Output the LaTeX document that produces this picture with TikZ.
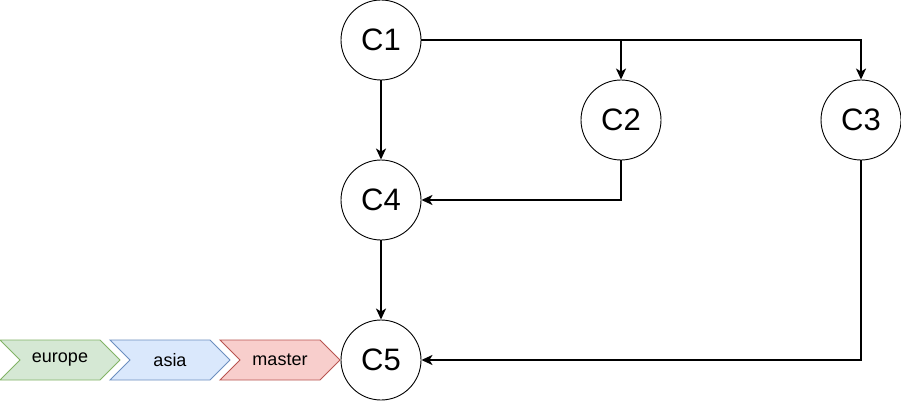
\documentclass[tikz,border=0pt]{standalone}
\usepackage{fontspec}
\setmainfont{Liberation Sans}
\usetikzlibrary{arrows.meta}
\definecolor{greenfill}{HTML}{D5E8D4}\definecolor{greenline}{HTML}{82B366}
\definecolor{bluefill}{HTML}{DAE8FC}\definecolor{blueline}{HTML}{6C8EBF}
\definecolor{redfill}{HTML}{F8CECC}\definecolor{redline}{HTML}{B85450}
\tikzset{
  commit/.style={circle, draw=black, line width=0.9pt, minimum size=80pt, inner sep=0pt, font=\fontsize{31}{31}\selectfont},
  link/.style={line width=1.8pt, -{Stealth[length=11pt,width=10pt,inset=3pt]}},
  branchtag/.style={line width=0.9pt},
  taglabel/.style={font=\fontsize{18}{18}\selectfont}
}
\begin{document}
\begin{tikzpicture}[x=1pt,y=-1pt]
  \useasboundingbox (0,0) rectangle (901,401);
  % commits
  \node[commit] (c1) at (381,40) {C1};
  \node[commit] (c2) at (621,120) {C2};
  \node[commit] (c3) at (861,120) {C3};
  \node[commit] (c4) at (381,200) {C4};
  \node[commit] (c5) at (381,360) {C5};
  % parent links
  \draw[link] (c1.east) -| (c2.north);
  \draw[link] (c1.east) -| (c3.north);
  \draw[link] (c1) -- (c4);
  \draw[link] (c2.south) |- (c4.east);
  \draw[link] (c4) -- (c5);
  \draw[link] (c3.south) |- (c5.east);
  % branch pointers
  \foreach \x/\fc/\lc/\name in {0/greenfill/greenline/europe, 110/bluefill/blueline/asia, 220/redfill/redline/master}{
    \draw[branchtag, fill=\fc, draw=\lc] (\x,340) -- (\x+100,340) -- (\x+120,360) -- (\x+100,380) -- (\x,380) -- (\x+20,360) -- cycle;
    \node[taglabel] (tag-\name) at (\x+60,360) {\name};
  }
\end{tikzpicture}
\end{document}
